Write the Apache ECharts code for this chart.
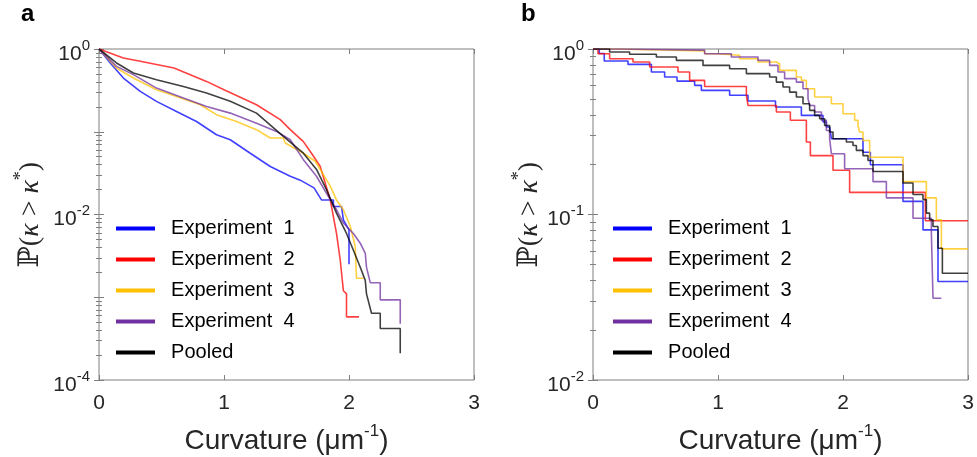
<!DOCTYPE html>
<html>
<head>
<meta charset="utf-8">
<script src="https://cdn.jsdelivr.net/npm/echarts@6/dist/echarts.min.js"></script>
<style>
  html, body { margin: 0; padding: 0; background: #fff; }
  #chart { width: 977px; height: 457px; }
</style>
</head>
<body>
<div id="chart"></div>
<script>
// series names and colours
const seriesNames = ["Experiment 1", "Experiment 2", "Experiment 3", "Experiment 4", "Pooled"];
const legendColors = ["#0000ff", "#ff0000", "#ffc000", "#7030a0", "#000000"];

// x ticks (curvature, um^-1)
const xTicks = [0, 1, 2, 3];

// panel a : [curvature, P(k > k*)]
const a_exp1 = [[0, 1], [0.09, 0.678], [0.195, 0.446], [0.33, 0.308], [0.46, 0.233], [0.62, 0.176],
  [0.78, 0.133], [0.94, 0.092], [1.05, 0.08], [1.21, 0.055], [1.37, 0.038], [1.53, 0.029],
  [1.61, 0.026], [1.72, 0.021], [1.78, 0.015], [1.875, 0.015], [1.875, 0.0125], [1.94, 0.0125],
  [1.955, 0.0086], [2.0, 0.0065], [2.0, 0.0025]];
const a_exp2 = [[0, 1], [0.195, 0.778], [0.33, 0.71], [0.6, 0.589], [0.86, 0.406], [1.0, 0.322],
  [1.26, 0.212], [1.45, 0.14], [1.53, 0.106], [1.635, 0.076], [1.7, 0.055], [1.77, 0.038],
  [1.85, 0.015], [1.9, 0.0059], [1.93, 0.0028], [1.955, 0.0012], [1.98, 0.0011], [1.98, 0.00058],
  [2.08, 0.00058]];
const a_exp3 = [[0, 1], [0.14, 0.589], [0.275, 0.446], [0.46, 0.322], [0.62, 0.267], [0.81, 0.212],
  [0.94, 0.161], [1.1, 0.133], [1.26, 0.106], [1.37, 0.084], [1.475, 0.084], [1.49, 0.073],
  [1.635, 0.055], [1.73, 0.044], [1.78, 0.033], [1.85, 0.022], [1.9, 0.015], [1.955, 0.0114],
  [2.01, 0.0072], [2.05, 0.0041], [2.06, 0.0017], [2.115, 0.0017]];
const a_exp4 = [[0, 1], [0.14, 0.617], [0.275, 0.49], [0.46, 0.337], [0.675, 0.255], [0.86, 0.202],
  [1.05, 0.168], [1.26, 0.127], [1.42, 0.101], [1.53, 0.08], [1.635, 0.046], [1.74, 0.029],
  [1.82, 0.018], [1.9, 0.0114], [1.955, 0.0079], [2.035, 0.0059], [2.09, 0.0045], [2.13, 0.0034],
  [2.14, 0.0023], [2.17, 0.0015], [2.25, 0.0015], [2.25, 0.00093], [2.41, 0.00093], [2.41, 0.00048]];
const a_pooled = [[0, 1], [0.14, 0.678], [0.275, 0.513], [0.46, 0.426], [0.675, 0.353], [0.86, 0.294],
  [1.05, 0.233], [1.26, 0.168], [1.475, 0.088], [1.635, 0.055], [1.74, 0.035], [1.82, 0.02],
  [1.9, 0.0104], [1.98, 0.0059], [2.035, 0.0037], [2.09, 0.0023], [2.13, 0.0016], [2.14, 0.0011],
  [2.18, 0.00064], [2.25, 0.00064], [2.25, 0.00042], [2.41, 0.00042], [2.41, 0.00021]];

// panel b : step levels [curvature where level starts, P(k > k*)]
const b_exp1 = [[0, 1], [0.05, 0.94], [0.09, 0.846], [0.28, 0.807], [0.467, 0.726], [0.573, 0.677],
  [0.672, 0.64], [0.813, 0.603], [0.867, 0.562], [1.093, 0.525], [1.24, 0.485], [1.46, 0.446],
  [1.667, 0.397], [1.84, 0.362], [1.867, 0.338], [1.893, 0.33], [1.907, 0.287], [2.16, 0.238],
  [2.219, 0.2], [2.48, 0.12], [2.64, 0.0807], [2.76, 0.0394], [3.0, 0.0394]];
const b_exp2 = [[0, 1], [0.04, 0.937], [0.133, 0.874], [0.32, 0.834], [0.453, 0.778], [0.68, 0.726],
  [0.773, 0.646], [0.893, 0.594], [1.227, 0.525], [1.24, 0.456], [1.467, 0.416], [1.579, 0.371],
  [1.707, 0.274], [1.739, 0.227], [1.92, 0.185], [2.053, 0.136], [2.659, 0.0916], [3.0, 0.0916]];
const b_exp3 = [[0, 1], [0.16, 0.973], [0.893, 0.937], [0.987, 0.916], [1.173, 0.874], [1.32, 0.834],
  [1.467, 0.815], [1.493, 0.743], [1.627, 0.677], [1.667, 0.646], [1.707, 0.575], [1.773, 0.513],
  [1.907, 0.467], [2.0, 0.406], [2.093, 0.371], [2.12, 0.345], [2.133, 0.315], [2.16, 0.28],
  [2.213, 0.222], [2.48, 0.158], [2.667, 0.126], [2.747, 0.093], [2.787, 0.062], [3.0, 0.062]];
const b_exp4 = [[0, 1], [0.227, 0.985], [0.893, 0.937], [1.107, 0.895], [1.32, 0.854], [1.413, 0.796],
  [1.48, 0.726], [1.533, 0.662], [1.627, 0.631], [1.68, 0.575], [1.72, 0.501], [1.733, 0.456],
  [1.773, 0.416], [1.827, 0.371], [1.867, 0.322], [1.893, 0.287], [1.907, 0.233], [2.013, 0.189],
  [2.24, 0.158], [2.347, 0.126], [2.56, 0.095], [2.707, 0.077], [2.72, 0.0312], [2.787, 0.0312]];
const b_pooled = [[0, 1], [0.133, 0.959], [0.293, 0.929], [0.507, 0.895], [0.667, 0.854], [0.88, 0.796],
  [1.093, 0.76], [1.227, 0.71], [1.413, 0.677], [1.467, 0.631], [1.52, 0.589], [1.573, 0.549],
  [1.627, 0.513], [1.68, 0.467], [1.733, 0.426], [1.773, 0.397], [1.813, 0.379], [1.853, 0.345],
  [1.893, 0.315], [1.92, 0.287], [2.027, 0.274], [2.08, 0.261], [2.107, 0.244], [2.16, 0.227],
  [2.2, 0.212], [2.24, 0.182], [2.48, 0.155], [2.56, 0.132], [2.64, 0.123], [2.667, 0.102],
  [2.693, 0.093], [2.72, 0.0846], [2.76, 0.0625], [2.795, 0.0442], [3.0, 0.0442]];

const panelA = [a_exp1, a_exp2, a_exp3, a_exp4, a_pooled];
const panelB = [b_exp1, b_exp2, b_exp3, b_exp4, b_pooled];

const FONT = "Liberation Sans";
const AXIS_COLOR = "#7f7f7f";
const TEXT_COLOR = "#262626";

const chart = echarts.init(document.getElementById("chart"));

function supLabel(v) {
  const e = Math.round(Math.log10(v));
  return "{n|10}{sup|" + e + "}";
}

const tickRich = {
  n: { fontSize: 21, lineHeight: 32, fontFamily: FONT, color: TEXT_COLOR },
  sup: { fontSize: 15, lineHeight: 15, verticalAlign: "top", fontFamily: FONT, color: TEXT_COLOR }
};

const xNameRich = {
  n: { fontSize: 28, lineHeight: 36, fontFamily: FONT, color: TEXT_COLOR },
  sup: { fontSize: 17, lineHeight: 17, verticalAlign: "top", fontFamily: FONT, color: TEXT_COLOR }
};

const yNameRich = {
  p: { fontSize: 28, lineHeight: 38, fontFamily: "DejaVu Serif", color: TEXT_COLOR },
  n: { fontSize: 28, lineHeight: 38, fontFamily: "Liberation Serif", color: TEXT_COLOR },
  i: { fontSize: 28, lineHeight: 38, fontFamily: "Liberation Serif", fontStyle: "italic", color: TEXT_COLOR },
  sup: { fontSize: 18, lineHeight: 18, verticalAlign: "top", fontFamily: "Liberation Serif", color: TEXT_COLOR }
};

function xAxes(g) {
  return [
    {
      gridIndex: g, type: "value", position: "bottom",
      min: xTicks[0], max: xTicks[xTicks.length - 1], interval: 1,
      axisLine: { show: false },
      axisTick: { inside: true, length: 5, lineStyle: { color: AXIS_COLOR } },
      axisLabel: { margin: 13, fontSize: 21, fontFamily: FONT, color: TEXT_COLOR },
      splitLine: { show: false },
      name: "{n|Curvature (μm}{sup|-1}{n|)}",
      nameLocation: "middle", nameGap: 43,
      nameTextStyle: { rich: xNameRich }
    },
    {
      gridIndex: g, type: "value", position: "top",
      min: xTicks[0], max: xTicks[xTicks.length - 1], interval: 1,
      axisLine: { show: false },
      axisTick: { inside: true, length: 5, lineStyle: { color: AXIS_COLOR } },
      axisLabel: { show: false },
      splitLine: { show: false }
    }
  ];
}

function yAxes(g, minVal, showEvery, nameGap) {
  const common = {
    gridIndex: g, type: "log", logBase: 10, min: minVal, max: 1, interval: 1,
    axisLine: { show: false },
    axisTick: { inside: true, length: 5, lineStyle: { color: AXIS_COLOR } },
    minorTick: { show: true, splitNumber: 9, length: 3, lineStyle: { color: AXIS_COLOR } },
    splitLine: { show: false },
    minorSplitLine: { show: false }
  };
  return [
    Object.assign({}, common, {
      position: "left",
      axisLabel: {
        margin: 9, padding: [10, 0, 0, 0], rich: tickRich,
        formatter: function (v) {
          const e = Math.round(Math.log10(v));
          return (e % showEvery === 0) ? supLabel(v) : "";
        }
      },
      name: "{p|ℙ}{n|(}{i|κ}{n| > }{i|κ}{sup|*}{n|)}",
      nameLocation: "middle", nameRotate: 90, nameGap: nameGap,
      nameTextStyle: { rich: yNameRich }
    }),
    Object.assign({}, common, {
      position: "right",
      axisLabel: { show: false }
    })
  ];
}

const series = [];
panelA.forEach(function (data, i) {
  series.push({
    name: seriesNames[i], type: "line", xAxisIndex: 0, yAxisIndex: 0,
    data: data, showSymbol: false, symbol: "none", color: legendColors[i],
    lineStyle: { width: 1.6, opacity: 0.75 }, z: 2 + i
  });
});
panelB.forEach(function (data, i) {
  series.push({
    name: seriesNames[i], type: "line", xAxisIndex: 2, yAxisIndex: 2,
    data: data, step: "end", showSymbol: false, symbol: "none", color: legendColors[i],
    lineStyle: { width: 1.6, opacity: 0.75 }, z: 2 + i
  });
});

function legend(left) {
  return {
    orient: "vertical", left: left, top: 218, padding: 0,
    icon: "rect", itemWidth: 39, itemHeight: 4, itemGap: 10,
    selectedMode: false,
    itemStyle: { opacity: 1 },
    data: seriesNames,
    formatter: function (name) { return "  " + name.replace(/ (\d)$/, "  $1"); },
    textStyle: { fontSize: 20, lineHeight: 21, fontFamily: FONT, color: "#000" }
  };
}

chart.setOption({
  animation: false,
  backgroundColor: "#fff",
  title: [
    { text: "a", left: 21, top: 2, padding: 0, textStyle: { fontSize: 24, fontWeight: "bold", fontFamily: FONT, color: "#000" } },
    { text: "b", left: 521, top: 2, padding: 0, textStyle: { fontSize: 24, fontWeight: "bold", fontFamily: FONT, color: "#000" } }
  ],
  legend: [legend(116), legend(613)],
  grid: [
    { left: 99, top: 49, width: 375, height: 331, show: true, borderColor: AXIS_COLOR, borderWidth: 1, outerBoundsMode: "none", containLabel: false },
    { left: 593, top: 49, width: 375, height: 331, show: true, borderColor: AXIS_COLOR, borderWidth: 1, outerBoundsMode: "none", containLabel: false }
  ],
  xAxis: xAxes(0).concat(xAxes(1)),
  yAxis: yAxes(0, 1e-4, 2, 49).concat(yAxes(1, 1e-2, 1, 41)),
  series: series
});
</script>
</body>
</html>
